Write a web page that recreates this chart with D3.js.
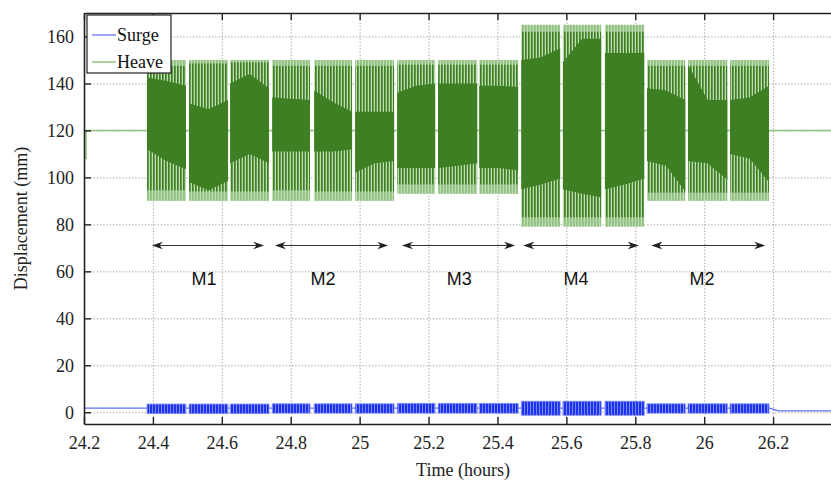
<!DOCTYPE html>
<html>
<head>
<meta charset="utf-8">
<script src="https://cdn.jsdelivr.net/npm/d3@7"></script>
<style>
  body { margin: 0; background: #fff; }
  svg text { font-family: "Liberation Serif", "Times New Roman", serif; }
</style>
</head>
<body>
<div id="chart-container"></div>
<script>
// Values
var xTicks = [24.2, 24.4, 24.6, 24.8, 25, 25.2, 25.4, 25.6, 25.8, 26, 26.2];
var yTicks = [0, 20, 40, 60, 80, 100, 120, 140, 160];

// one entry per test block (15 blocks)
var blockStart = [24.383, 24.505, 24.624, 24.746, 24.868, 24.987, 25.109, 25.228, 25.347,
                  25.469, 25.590, 25.712, 25.834, 25.953, 26.075];
var blockEnd   = [24.496, 24.618, 24.737, 24.856, 24.978, 25.100, 25.219, 25.341, 25.460,
                  25.582, 25.701, 25.826, 25.945, 26.067, 26.188];
var heaveMax     = [150, 150, 150, 150, 150, 150, 150, 150, 150, 165, 165, 165, 150, 150, 150];
var heaveMin     = [90, 90, 90, 90, 90, 90, 93, 93, 93, 79, 79, 79, 90, 90, 90];
var heaveLineMax = [147.5, 148.5, 149, 147.5, 147.5, 147.5, 148, 148, 148, 162, 162, 162, 147.5, 147.5, 147.5];
var heaveLineMin = [94.5, 94, 94, 94.5, 94, 94, 97, 97, 97, 83, 83, 83, 93.5, 93.5, 93.5];
// dense band of each block: value at start, middle, end
var coreTop = [[142.5, 141, 139], [131.5, 129, 133], [140, 144, 138], [134, 133.5, 133],
               [137, 132, 128], [128, 128, 128], [136, 139, 140], [140, 140, 140],
               [139, 139, 138.5], [150, 151, 155], [149, 159, 159], [153, 153, 153],
               [138, 137, 133], [148, 133, 133], [133, 134, 139]];
var coreBot = [[112, 107, 103.5], [98, 94.5, 98.5], [106, 110, 106], [111, 111, 111],
               [111, 111, 112], [102, 106, 107], [104, 104, 104], [104, 105, 106],
               [104, 104, 103], [95, 97, 99.5], [95, 93, 91.5], [95, 97, 99.5],
               [107, 105, 94], [107, 106, 99], [110, 108, 98]];
var surgeMax = [3.5, 3.5, 3.5, 3.6, 3.6, 3.6, 3.8, 3.8, 3.8, 4.7, 4.7, 4.7, 3.6, 3.6, 3.6];
var surgeMin = [-0.6, -0.6, -0.6, -0.4, -0.4, -0.4, -0.4, -0.4, -0.4, -1.3, -1.3, -1.3, -0.4, -0.4, -0.4];

// signal outside the blocks
var heaveRest = [[24.2, 108], [24.206, 108], [24.206, 120], [26.4, 120]];
var surgeRest = [[24.2, 1.8], [26.19, 1.8], [26.215, 0.6], [26.4, 0.6]];

// sea state annotations
var modeNames  = ["M1", "M2", "M3", "M4", "M2"];
var modeStart  = [24.40, 24.757, 25.126, 25.478, 25.850];
var modeEnd    = [24.72, 25.080, 25.448, 25.807, 26.174];
var modeLabelT = [24.548, 24.894, 25.289, 25.628, 25.994];
var arrowLevel = 71, labelLevel = 57;

// Set up dimensions
var W = 831, H = 481;
var margin = {top: 13, left: 84, bottom: 57},
    width = 758,
    height = H - margin.top - margin.bottom;

var darkGreen = "#3d7f22", lightGreen = "#92c283", paleGreen = "#c0dbb3";
var darkBlue = "#1d33ee", lightBlue = "#8290f4";

var root = d3.select("#chart-container")
    .append("svg")
    .attr("width", W)
    .attr("height", H);

// stripe patterns imitate the individual wave cycles
var defs = root.append("defs");
var p1 = defs.append("pattern").attr("id", "heaveLight")
    .attr("patternUnits", "userSpaceOnUse").attr("width", 3).attr("height", 10);
p1.append("rect").attr("width", 3).attr("height", 10).attr("fill", lightGreen);
p1.append("rect").attr("x", 1.8).attr("width", 1.2).attr("height", 10).attr("fill", paleGreen);
var p2 = defs.append("pattern").attr("id", "heaveDark")
    .attr("patternUnits", "userSpaceOnUse").attr("width", 3).attr("height", 10);
p2.append("rect").attr("width", 1.6).attr("height", 10).attr("fill", darkGreen);
var p3 = defs.append("pattern").attr("id", "surgeFill")
    .attr("patternUnits", "userSpaceOnUse").attr("width", 3).attr("height", 10);
p3.append("rect").attr("width", 3).attr("height", 10).attr("fill", darkBlue);
p3.append("rect").attr("x", 2).attr("width", 0.9).attr("height", 10).attr("fill", lightBlue);

defs.append("marker").attr("id", "head")
    .attr("viewBox", "0 0 10 10").attr("refX", 9).attr("refY", 5)
    .attr("markerWidth", 11).attr("markerHeight", 11).attr("markerUnits", "userSpaceOnUse")
    .attr("orient", "auto-start-reverse")
    .append("path").attr("d", "M0,1.5 L10,5 L0,8.5 L3,5 Z").attr("fill", "#222");

var svg = root.append("g")
    .attr("transform", "translate(" + margin.left + "," + margin.top + ")");

// Define scales
var x = d3.scaleLinear().domain([24.2, 26.4]).range([0, width]);
var y = d3.scaleLinear().domain([-5, 170]).range([height, 0]);

// Grid
svg.append("g")
   .attr("class", "grid")
   .attr("transform", "translate(0," + height + ")")
   .call(d3.axisBottom(x).tickValues(xTicks).tickSize(-height).tickFormat(""))
   .call(function(g) { g.select(".domain").remove(); });
svg.append("g")
   .attr("class", "grid")
   .call(d3.axisLeft(y).tickValues(yTicks).tickSize(-width).tickFormat(""))
   .call(function(g) { g.select(".domain").remove(); });
svg.selectAll(".grid .tick line")
   .attr("stroke", "#9a9a9a")
   .attr("stroke-dasharray", "1.2,2");

// Signal between the blocks
var line = d3.line()
    .x(function(d) { return x(d[0]); })
    .y(function(d) { return y(d[1]); });

svg.append("path").datum(heaveRest)
   .attr("fill", "none").attr("stroke", lightGreen).attr("stroke-width", 1.5)
   .attr("d", line);
svg.append("path").datum(surgeRest)
   .attr("fill", "none").attr("stroke", "#5f70f2").attr("stroke-width", 1.3)
   .attr("d", line);

// Heave blocks
var blocks = blockStart.map(function(t0, i) {
    var t1 = blockEnd[i];
    return {
        t0: t0, t1: t1,
        hi: heaveMax[i], lo: heaveMin[i],
        lhi: heaveLineMax[i], llo: heaveLineMin[i],
        core: [0, 1, 2].map(function(k) {
            return {t: t0 + (t1 - t0) * k / 2, top: coreTop[i][k], bot: coreBot[i][k]};
        }),
        shi: surgeMax[i], slo: surgeMin[i]
    };
});

var area = d3.area()
    .x(function(d) { return x(d.t); })
    .y0(function(d) { return y(d.bot); })
    .y1(function(d) { return y(d.top); });

var bg = svg.selectAll(".block").data(blocks).enter().append("g").attr("class", "block");
bg.append("rect")
  .attr("x", function(d) { return x(d.t0); })
  .attr("width", function(d) { return x(d.t1) - x(d.t0); })
  .attr("y", function(d) { return y(d.hi); })
  .attr("height", function(d) { return y(d.lo) - y(d.hi); })
  .attr("fill", "url(#heaveLight)");
bg.append("rect")
  .attr("x", function(d) { return x(d.t0); })
  .attr("width", function(d) { return x(d.t1) - x(d.t0); })
  .attr("y", function(d) { return y(d.lhi); })
  .attr("height", function(d) { return y(d.llo) - y(d.lhi); })
  .attr("fill", "url(#heaveDark)");
bg.append("path")
  .attr("d", function(d) { return area(d.core); })
  .attr("fill", darkGreen);

// Surge blocks
bg.append("rect")
  .attr("x", function(d) { return x(d.t0); })
  .attr("width", function(d) { return x(d.t1) - x(d.t0); })
  .attr("y", function(d) { return y(d.shi); })
  .attr("height", function(d) { return y(d.slo) - y(d.shi); })
  .attr("fill", "url(#surgeFill)")
  .attr("stroke", lightBlue).attr("stroke-width", 0.8);

// Sea state arrows and labels
modeNames.forEach(function(name, i) {
    svg.append("line")
       .attr("x1", x(modeStart[i])).attr("x2", x(modeEnd[i]))
       .attr("y1", y(arrowLevel)).attr("y2", y(arrowLevel))
       .attr("stroke", "#333").attr("stroke-width", 1.1)
       .attr("marker-start", "url(#head)").attr("marker-end", "url(#head)");
    svg.append("text")
       .attr("x", x(modeLabelT[i])).attr("y", y(labelLevel))
       .attr("dy", "0.36em")
       .style("text-anchor", "middle")
       .style("font-family", "'Liberation Sans', Arial, sans-serif")
       .style("font-size", "18px")
       .attr("fill", "#111")
       .text(name);
});

// Axes with inward ticks
var fmt = function(d) { return String(d); };
var xAxis = svg.append("g")
   .attr("transform", "translate(0," + height + ")")
   .call(d3.axisBottom(x).tickValues(xTicks).tickSizeInner(-7).tickSizeOuter(0).tickPadding(12).tickFormat(fmt));
var topAxis = svg.append("g")
   .call(d3.axisTop(x).tickValues(xTicks).tickSizeInner(-7).tickSizeOuter(0).tickFormat(""));
var yAxis = svg.append("g")
   .call(d3.axisLeft(y).tickValues(yTicks).tickSizeInner(-7).tickSizeOuter(0).tickPadding(10).tickFormat(fmt));
svg.selectAll(".domain").attr("stroke", "#222").attr("stroke-width", 1.6);
[xAxis, topAxis, yAxis].forEach(function(a) {
    a.selectAll(".tick text")
     .style("font-family", "'Liberation Serif', 'Times New Roman', serif")
     .style("font-size", "18px")
     .attr("fill", "#222");
    a.selectAll(".tick line").attr("stroke", "#222").attr("stroke-width", 1.4);
});

// Labels
svg.append("text")
   .attr("x", width / 2)
   .attr("y", height + 52)
   .style("text-anchor", "middle")
   .style("font-size", "18px")
   .attr("fill", "#222")
   .text("Time (hours)");

svg.append("text")
   .attr("transform", "rotate(-90)")
   .attr("x", -height / 2)
   .attr("y", -margin.left + 27)
   .style("text-anchor", "middle")
   .style("font-size", "18px")
   .attr("fill", "#222")
   .text("Displacement (mm)");

// Legend
var legend = svg.append("g").attr("transform", "translate(3,2)");
legend.append("rect")
   .attr("width", 84).attr("height", 58)
   .attr("fill", "#fff").attr("stroke", "#222").attr("stroke-width", 1.2);
[["Surge", "#7f88f6"], ["Heave", lightGreen]].forEach(function(item, i) {
    var ly = 20 + i * 27;
    legend.append("line")
       .attr("x1", 5).attr("x2", 29).attr("y1", ly).attr("y2", ly)
       .attr("stroke", item[1]).attr("stroke-width", 1.5);
    legend.append("text")
       .attr("x", 30).attr("y", ly).attr("dy", "0.33em")
       .style("font-size", "18px")
       .attr("fill", "#111")
       .text(item[0]);
});
</script>
</body>
</html>
